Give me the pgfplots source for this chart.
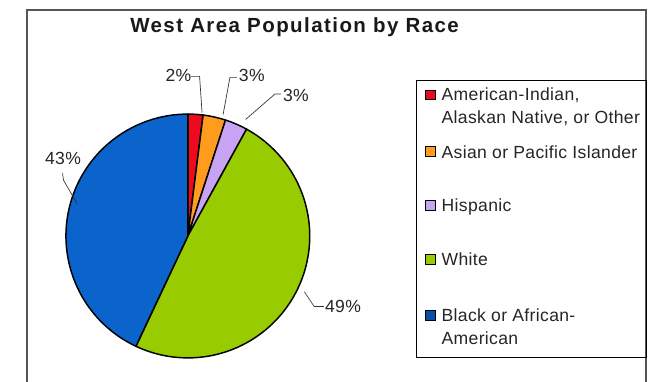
\documentclass[border=0pt]{standalone}
\usepackage{pgfplots}
\usepackage{pgfplotstable}
\pgfplotsset{compat=1.18}
\usepackage{fontspec}
\setmainfont{Liberation Sans}
\newfontfamily\lfont[LetterSpace=2]{Liberation Sans}
\newfontfamily\tfont[LetterSpace=7]{Liberation Sans}
\definecolor{cRed}{HTML}{EE0A1E}
\definecolor{cOrange}{HTML}{FF9C1E}
\definecolor{cLav}{HTML}{C9A3F3}
\definecolor{cGreen}{HTML}{99CC00}
\definecolor{cBlue}{HTML}{0B63CC}
\definecolor{frame}{HTML}{555555}
\pgfplotstableread{
name value
AmInd 2
Asian 3
Hisp 3
White 49
Black 43
}\pietable
\begin{document}
\pgfplotstablegetelem{0}{value}\of\pietable \let\vA\pgfplotsretval
\pgfplotstablegetelem{1}{value}\of\pietable \let\vB\pgfplotsretval
\pgfplotstablegetelem{2}{value}\of\pietable \let\vC\pgfplotsretval
\pgfplotstablegetelem{3}{value}\of\pietable \let\vD\pgfplotsretval
\pgfplotstablegetelem{4}{value}\of\pietable \let\vE\pgfplotsretval
\pgfmathsetmacro\aA{90-3.6*\vA}
\pgfmathsetmacro\aB{\aA-3.6*\vB}
\pgfmathsetmacro\aC{\aB-3.6*\vC}
\pgfmathsetmacro\aD{\aC-3.6*\vD}
\pgfmathsetmacro\aE{\aD-3.6*\vE}
\begin{tikzpicture}[x=1bp,y=1bp]
\useasboundingbox (0,0) rectangle (650,-390);
\fill[white] (0,0) rectangle (650,-390);
% frame
\draw[frame, line width=1.6bp] (14,-400) -- (14,-10) -- (646,-10) -- (646,-400);
% title
\node[anchor=base, text=black!90] at (287,-33) {\tfont\fontsize{21}{25}\selectfont\bfseries West Area Population by Race};
% pie
\begin{axis}[at={(178bp,-241bp)}, anchor=center, x=124.5bp, y=124.5bp, disabledatascaling,
  xmin=-1.1, xmax=1.1, ymin=-1.1, ymax=1.1, hide axis, clip=false]
\addplot[fill=cRed, draw=black, line width=1.5bp, line join=round, domain=\aA:90, samples=6] ({cos(x)},{sin(x)}) -- (axis cs:0,0) -- cycle;
\addplot[fill=cOrange, draw=black, line width=1.5bp, line join=round, domain=\aB:\aA, samples=8] ({cos(x)},{sin(x)}) -- (axis cs:0,0) -- cycle;
\addplot[fill=cLav, draw=black, line width=1.5bp, line join=round, domain=\aC:\aB, samples=8] ({cos(x)},{sin(x)}) -- (axis cs:0,0) -- cycle;
\addplot[fill=cGreen, draw=black, line width=1.5bp, line join=round, domain=\aD:\aC, samples=90] ({cos(x)},{sin(x)}) -- (axis cs:0,0) -- cycle;
\addplot[fill=cBlue, draw=black, line width=1.5bp, line join=round, domain=\aE:\aD, samples=90] ({cos(x)},{sin(x)}) -- (axis cs:0,0) -- cycle;
\end{axis}
% leader lines
\begin{scope}[draw=black!80, line width=0.7bp]
\draw (181,-78) -- (190,-78) -- (192.5,-115);
\draw (228,-79) -- (221,-79) -- (214,-117);
\draw (273,-96) -- (267,-96) -- (237,-122);
\draw (50,-177) -- (51,-184) -- (65,-208);
\draw (297,-298) -- (307,-313) -- (317,-313);
\end{scope}
% pie labels
\begin{scope}[every node/.style={anchor=base west, inner sep=0pt, text=black!85, font=\lfont\fontsize{18}{21}\selectfont}]
\node at (155,-83.5) {2\%};
\node at (230,-83.5) {3\%};
\node at (275,-103.5) {3\%};
\node at (32,-168.5) {43\%};
\node at (318,-319.5) {49\%};
\end{scope}
% legend
\draw[black, line width=1bp] (412,-82) rectangle (646,-365);
\begin{scope}[every node/.style={anchor=base west, inner sep=0pt, text=black!85, font=\lfont\fontsize{18}{21}\selectfont}]
\node at (437,-103) {American-Indian,};
\node at (437,-126) {Alaskan Native, or Other};
\node at (437,-161.5) {Asian or Pacific Islander};
\node at (437,-216.5) {Hispanic};
\node at (437,-271.5) {White};
\node at (437,-328.5) {Black or African-};
\node at (437,-351.5) {American};
\end{scope}
\begin{scope}[draw=black, line width=1bp]
\filldraw[fill=cRed] (421,-92) rectangle (431,-102);
\filldraw[fill=cOrange] (421,-150) rectangle (431,-160);
\filldraw[fill=cLav] (421,-205) rectangle (431,-215);
\filldraw[fill=cGreen] (421,-260) rectangle (431,-270);
\filldraw[fill=cBlue!80!black] (421,-317) rectangle (431,-327);
\end{scope}
\end{tikzpicture}
\end{document}
